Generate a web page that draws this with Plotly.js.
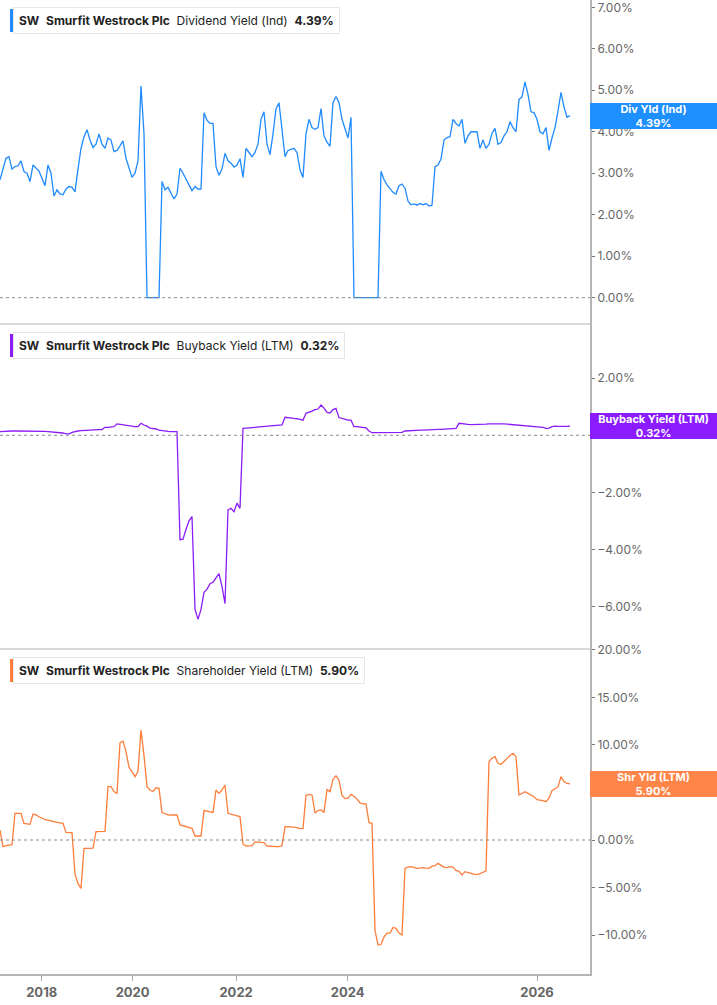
<!DOCTYPE html>
<html>
<head>
<meta charset="utf-8">
<script src="https://cdn.plot.ly/plotly-3.0.1.min.js"></script>
<style>
  html, body { margin: 0; padding: 0; background: #fff; }
  #chart { width: 717px; height: 1005px; }
</style>
</head>
<body>
<div id="chart"></div>
<script>
// one sample every few pixels, oldest first (%)
var divYield = [
  2.84,3.10,3.36,3.40,3.10,3.16,3.18,3.30,3.04,3.00,
  2.80,3.20,3.12,3.05,2.88,2.70,3.20,3.00,2.45,2.60,
  2.50,2.48,2.62,2.68,2.66,2.55,3.10,3.60,3.88,4.05,
  3.80,3.62,3.70,3.95,3.70,3.60,3.85,3.80,3.52,3.55,
  3.66,3.78,3.36,3.10,2.90,3.00,3.30,5.10,3.95,0,
  0,0,0,0,2.80,2.60,2.66,2.50,2.38,2.50,
  3.12,3.00,2.85,2.70,2.58,2.68,2.62,
  2.62,4.46,4.28,4.20,4.20,3.16,2.95,3.10,3.48,3.30,
  3.24,3.15,3.20,3.35,2.90,3.60,3.50,3.40,3.50,3.70,
  4.30,4.48,3.70,3.45,3.95,4.55,4.70,4.05,3.40,3.55,
  3.58,3.60,3.50,3.08,2.90,3.95,4.30,4.10,4.06,4.10,
  4.56,3.90,3.75,3.65,4.70,4.85,4.70,4.30,4.08,3.85,
  4.35,0,0,0,0,0,0,0,0,0,
  3.05,2.85,
  2.72,2.64,2.54,2.50,2.70,2.74,2.64,2.33,2.24,2.26,
  2.23,2.27,2.24,2.27,2.21,2.23,3.16,3.20,3.34,3.80,
  3.86,3.88,4.30,4.20,4.14,4.30,3.72,3.90,4.00,4.00,
  4.00,3.60,3.80,3.60,3.70,3.96,4.08,3.70,3.74,3.90,
  4.00,4.24,4.10,4.00,4.78,4.84,5.20,4.90,4.48,4.46,
  4.30,4.00,3.95,4.10,3.55,3.85,4.10,4.50,4.95,4.60,
  4.35,4.39
];
var buybackYield = [
  0.13,0.14,0.14,0.15,0.15,0.15,0.15,0.16,0.16,0.16,
  0.16,0.16,0.15,0.15,0.14,0.14,0.13,0.12,0.12,0.11,
  0.10,0.08,0.05,0.05,0.10,0.13,0.15,0.16,0.17,0.17,
  0.18,0.19,0.19,0.20,0.20,0.28,0.28,0.29,0.30,0.40,
  0.38,0.36,0.35,0.34,0.32,0.30,0.30,0.42,0.36,0.32,
  0.25,0.24,0.22,0.18,0.16,0.15,0.14,0.13,0.13,0.13,
  -3.66,-3.64,-3.30,-3.00,-2.85,-6.10,-6.45,-6.10,-5.50,-5.40,
  -5.20,-5.15,-5.00,-4.85,-5.30,-5.90,-2.62,-2.56,-2.68,-2.38,
  -2.56,0.24,0.25,0.26,0.27,0.28,0.28,0.29,0.30,0.33,
  0.34,0.35,0.36,0.36,0.36,0.63,0.61,0.60,0.59,0.58,
  0.55,0.53,0.77,0.80,0.85,0.90,0.92,1.06,0.95,0.80,
  0.78,0.90,0.94,0.62,0.59,0.55,0.53,0.53,0.30,0.30,
  0.28,0.27,0.26,0.15,0.09,0.09,0.09,0.09,0.09,0.09,
  0.09,0.09,0.09,0.10,0.10,0.15,0.16,0.16,0.17,0.17,
  0.18,0.18,0.19,0.19,0.20,0.20,0.21,0.21,0.22,0.22,
  0.23,0.23,0.24,0.42,0.40,0.39,0.38,0.37,0.37,0.38,
  0.37,0.38,0.39,0.40,0.40,0.41,0.42,0.41,0.40,0.39,
  0.38,0.39,0.37,0.36,0.35,0.34,0.33,0.32,0.31,0.30,
  0.30,0.28,0.24,0.25,0.30,0.32,0.31,0.32,0.31,0.31,
  0.32
];
var shrYield = [
  1.05,-0.70,-0.60,-0.53,-0.50,2.81,2.81,2.81,1.75,1.70,
  1.65,2.74,2.65,2.45,2.28,2.15,2.10,1.98,1.93,1.85,
  1.80,1.75,0.80,0.80,0.78,-3.60,-4.60,-5.09,-0.88,-0.88,
  -0.85,-0.85,0.88,0.88,0.90,0.90,5.61,5.61,5.10,4.91,
  10.25,10.40,9.30,7.65,7.19,6.67,7.20,11.58,8.90,5.61,
  5.26,5.10,5.50,5.44,2.88,2.75,2.65,2.63,2.63,2.63,
  1.58,1.50,1.40,1.30,1.23,0.42,0.42,0.42,3.09,3.00,
  2.95,2.90,5.26,4.91,5.26,5.79,2.81,2.70,2.63,2.55,
  2.46,-0.42,-0.63,-0.63,-0.60,-0.20,-0.22,-0.25,-0.28,-0.63,
  -0.68,-0.70,-0.70,-0.70,-0.60,1.40,1.40,1.38,1.35,1.30,
  1.20,1.20,4.70,4.80,4.74,2.84,3.10,3.16,2.90,5.30,
  5.09,6.40,6.75,6.30,4.70,4.35,4.40,4.80,4.60,4.30,
  3.90,
  3.80,3.79,1.82,1.75,-9.50,-11.05,-11.00,-10.20,-9.80,-9.80,
  -9.20,-9.30,-9.80,-10.00,-2.98,-2.85,-2.81,-2.90,-2.98,-2.95,
  -2.90,-2.95,-2.98,-2.75,-2.70,-2.46,-2.70,-2.85,-2.90,-2.80,
  -2.85,-3.20,-3.30,-3.68,-3.33,-3.45,-3.51,-3.60,-3.65,-3.55,
  -3.40,-3.25,8.25,8.60,8.77,8.07,7.95,8.30,8.60,8.90,
  9.12,8.77,4.74,4.91,5.09,4.91,4.74,4.56,4.25,4.21,
  4.15,4.04,4.40,5.20,5.44,5.61,6.67,6.15,5.95,5.90
];
// the time axis is by sample, not calendar; year ticks sit at these samples
var yearLabels = ['2018', '2020', '2022', '2024', '2026'];
var yearPos = [13.9, 44.2, 78.7, 115.9, 179];

var idx = divYield.map(function (_, i) { return i; });

var blue = '#1f8bff', purple = '#8b1cf7', orange = '#ff7d3b';

var data = [
  { type: 'scatter', mode: 'lines', x: idx, y: divYield, yaxis: 'y',
    line: { color: blue, width: 1.3 }, hoverinfo: 'skip' },
  { type: 'scatter', mode: 'lines', x: idx, y: buybackYield, yaxis: 'y2',
    line: { color: purple, width: 1.3 }, hoverinfo: 'skip' },
  { type: 'scatter', mode: 'lines', x: idx, y: shrYield, yaxis: 'y3',
    line: { color: orange, width: 1.3 }, hoverinfo: 'skip' }
];

var plotH = 974;   // px of the plot area, used for paper positions
function py(px) { return 1 - px / plotH; }

function yAxis(domain, range, dtick) {
  return {
    domain: domain, range: range, dtick: dtick, side: 'right', anchor: 'x',
    tickformat: '.2f', ticksuffix: '%', ticklabeloverflow: 'allow',
    showgrid: false, zeroline: false,
    showline: true, linecolor: '#b5b5b5', linewidth: 2,
    ticks: 'outside', ticklen: 3, tickcolor: '#777',
    tickfont: { family: 'Inter', size: 12, color: '#666' }
  };
}

var gap = '\u00a0\u00a0';
function legendBox(yPx, label, value) {
  return {
    xref: 'paper', yref: 'paper', x: 13 / 590, y: py(yPx),
    xanchor: 'left', yanchor: 'middle', showarrow: false,
    text: '<b>SW</b>' + gap + '<b>Smurfit Westrock Plc</b>' + gap + label + gap + '<b>' + value + '</b>',
    font: { family: 'Inter', size: 12, color: '#222222' },
    bgcolor: '#ffffff', bordercolor: '#e6e6e6', borderwidth: 1, borderpad: 5
  };
}
function legendBar(y0Px, y1Px, color) {
  return { type: 'rect', xref: 'paper', yref: 'paper',
    x0: 10 / 590, x1: 13.5 / 590, y0: py(y0Px), y1: py(y1Px),
    fillcolor: color, line: { width: 0 } };
}
function valueTag(yref, val, text, color) {
  return {
    xref: 'paper', yref: yref, x: 1, y: val, xanchor: 'left', yanchor: 'middle',
    showarrow: false, text: text, align: 'center',
    font: { family: 'Inter', size: 11, color: '#ffffff', weight: 'bold' },
    bgcolor: color, width: 127, height: 26, borderpad: 0, borderwidth: 0
  };
}
function zeroLine(yref) {
  return { type: 'line', xref: 'paper', yref: yref, x0: 0, x1: 1, y0: 0, y1: 0,
    line: { color: '#8a8a8a', width: 1, dash: 'dot' } };
}
function separator(yPx) {
  return { type: 'line', xref: 'paper', yref: 'paper', x0: 0, x1: 1, y0: py(yPx), y1: py(yPx),
    line: { color: '#cccccc', width: 1.5 } };
}

var layout = {
  width: 717, height: 1005,
  paper_bgcolor: '#ffffff', plot_bgcolor: '#ffffff',
  showlegend: false,
  margin: { l: 0, r: 127, t: 0, b: 31 },
  xaxis: {
    domain: [0, 1], anchor: 'y3', range: [0, 590 / 3],
    tickvals: yearPos, ticktext: yearLabels,
    showgrid: false, zeroline: false,
    showline: true, linecolor: '#b5b5b5', linewidth: 2,
    ticks: 'outside', ticklen: 5, tickcolor: '#aaa',
    tickfont: { family: 'Inter', size: 13, color: '#666', weight: 'bold' }
  },
  yaxis: yAxis([py(324), 1], [-0.634, 7.176], 1),
  yaxis2: yAxis([py(649), py(324)], [-7.49, 3.90], 2),
  yaxis3: yAxis([0, py(649)], [-14.1, 20.1], 5),
  shapes: [
    zeroLine('y'), zeroLine('y2'), zeroLine('y3'),
    separator(324), separator(649),
    legendBar(9, 32, blue), legendBar(334, 357, purple), legendBar(659, 682, orange)
  ],
  annotations: [
    legendBox(20.5, 'Dividend Yield (Ind)', '4.39%'),
    legendBox(345.5, 'Buyback Yield (LTM)', '0.32%'),
    legendBox(670.5, 'Shareholder Yield (LTM)', '5.90%'),
    valueTag('y', 4.39, 'Div Yld (Ind)<br>4.39%', '#1e8fff'),
    valueTag('y2', 0.32, 'Buyback Yield (LTM)<br>0.32%', '#8a1cff'),
    valueTag('y3', 5.90, 'Shr Yld (LTM)<br>5.90%', '#ff8548')
  ]
};

Plotly.newPlot('chart', data, layout, { displayModeBar: false, staticPlot: true });
</script>
</body>
</html>
